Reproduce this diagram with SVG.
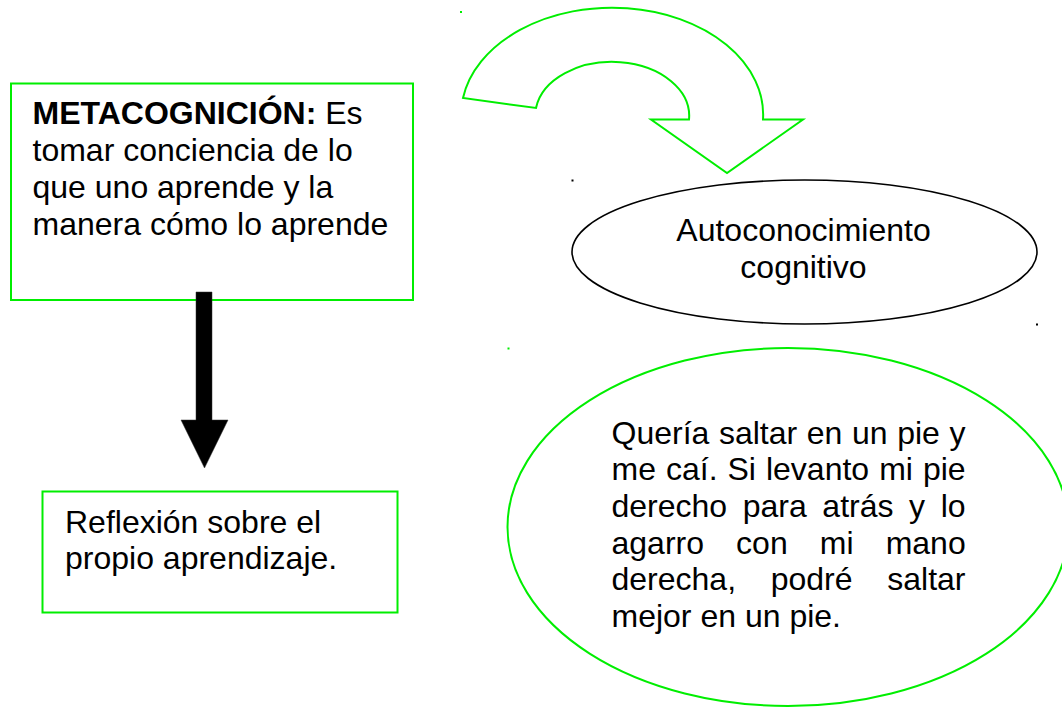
<svg xmlns="http://www.w3.org/2000/svg" width="1062" height="707" viewBox="0 0 1062 707">
  <style>
    .g { fill: #ffffff; stroke: #00ee00; stroke-width: 2; }
    .gl { fill: none; stroke: #00ee00; stroke-width: 2; }
    .k { fill: #ffffff; stroke: #000000; stroke-width: 1.6; }
    .t { font-family: "Liberation Sans", Arial, sans-serif; font-size: 32px; fill: #000000; }
    .b { font-weight: bold; }
  </style>
  <rect width="1062" height="707" fill="#ffffff"/>

  <g id="metacognicion">
    <rect class="g" x="11" y="83.5" width="402" height="216.5"/>
    <text class="t" x="32.5" y="124"><tspan class="b">METACOGNICIÓN:</tspan> Es</text>
    <text class="t" x="32.5" y="161">tomar conciencia de lo</text>
    <text class="t" x="32.5" y="197.5">que uno aprende y la</text>
    <text class="t" x="32.5" y="234.5">manera cómo lo aprende</text>
  </g>

  <g id="reflexion">
    <rect class="g" x="42.5" y="491.5" width="355" height="121"/>
    <text class="t" x="65" y="532.5">Reflexión sobre el</text>
    <text class="t" x="65" y="569">propio aprendizaje.</text>
  </g>

  <g id="autoconocimiento">
    <ellipse class="k" cx="804.5" cy="252" rx="232.5" ry="72"/>
    <text class="t" x="803.5" y="241" text-anchor="middle">Autoconocimiento</text>
    <text class="t" x="803.5" y="278" text-anchor="middle">cognitivo</text>
  </g>

  <g id="ejemplo">
    <ellipse class="g" cx="788" cy="527" rx="280.5" ry="179"/>
    <text class="t" x="611.5" y="443.5" word-spacing="0.7">Quería saltar en un pie y</text>
    <text class="t" x="611.5" y="480.3" word-spacing="1.1">me caí. Si levanto mi pie</text>
    <text class="t" x="611.5" y="517" word-spacing="6.7">derecho para atrás y lo</text>
    <text class="t" x="611.5" y="553.6" word-spacing="23.2">agarro con mi mano</text>
    <text class="t" x="611.5" y="590.3" word-spacing="25.8">derecha, podré saltar</text>
    <text class="t" x="611.5" y="627">mejor en un pie.</text>
  </g>

  <g id="connectors">
    <path class="g" d="M463,98 A151,107 0 0 1 763,119.5 L803,119.5 L727,173 L651,119.5 L689,119.5 A77,54 0 0 0 536,108 Z"/>
    <polygon points="196,292 212,292 212,420 228,420 204.5,468 181,420 196,420" fill="#000000" stroke="#333333" stroke-width="0.5"/>
  </g>

  <g id="marks">
    <rect x="460" y="11" width="2" height="2" fill="#00ee00"/>
    <rect x="507.5" y="347.5" width="2" height="2" fill="#00ee00"/>
    <rect x="571.5" y="179.5" width="2" height="2" fill="#000000"/>
    <rect x="1036" y="323.5" width="2" height="2" fill="#000000"/>
  </g>
</svg>
